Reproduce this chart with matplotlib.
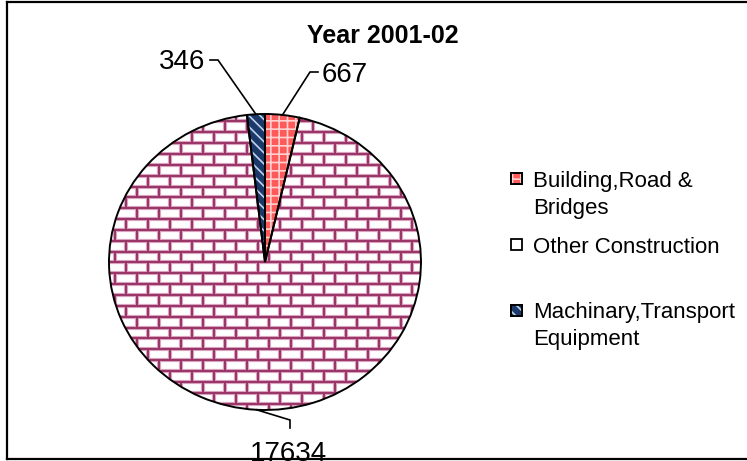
import numpy as np
import matplotlib
matplotlib.use('Agg')
import matplotlib.pyplot as plt
from matplotlib.patches import Wedge, Rectangle
from matplotlib.collections import LineCollection
from matplotlib.lines import Line2D

plt.rcParams['font.family'] = ['Liberation Sans', 'DejaVu Sans']
plt.rcParams['hatch.linewidth'] = 1.2

# ---- data ----
title = "Year 2001-02"
categories = ["Building,Road &\nBridges", "Other Construction", "Machinary,Transport\nEquipment"]
values = [667, 17634, 346]
value_labels = ["667", "17634", "346"]

# ---- styling ----
W, H = 747, 461
fig = plt.figure(figsize=(W / 100, H / 100), dpi=100)
fig.patch.set_facecolor('white')

cx, cy, rx, ry = 265, 262, 156, 148   # pie centre / radii in pixels (from top-left)
ax = fig.add_axes([(cx - 1.1 * rx) / W, 1 - (cy + 1.1 * ry) / H, 2.2 * rx / W, 2.2 * ry / H])

faces = ['#FF5A5A', 'white', '#1B3A6B']
hatches = ['++', None, '\\\\\\']
hatch_cols = ['#FFD0D0', None, '#BFD3EA']

wedges, _ = ax.pie(values, startangle=90, counterclock=False, radius=1, center=(0, 0),
                   colors=faces, wedgeprops=dict(edgecolor='none', linewidth=0), frame=False)
ax.set_aspect('auto')
ax.set_xlim(-1.1, 1.1)
ax.set_ylim(-1.1, 1.1)
ax.axis('off')

# hatch overlays
for w, h, hc in zip(wedges, hatches, hatch_cols):
    if h:
        ov = Wedge(w.center, w.r, w.theta1, w.theta2, facecolor='none', edgecolor=hc,
                   linewidth=0, hatch=h, zorder=2)
        ax.add_patch(ov)

# brick pattern for the large wedge
big = wedges[1]
dy = 10.85 / ry
bw = 22.0 / rx
y_start = (cy - 154) / ry
k0 = -int(3 / dy)
ys = [y_start + k * dy for k in range(k0, -k0)]
ys = [y for y in ys if -1.15 < y < 1.15]
hsegs, vsegs = [], []
for i, y in enumerate(ys):
    hsegs.append([(-1.1, y), (1.1, y)])
    off = (i % 2) * bw / 2
    xs = np.arange(-1.1 + off, 1.1, bw)
    for x in xs:
        vsegs.append([(x, y - dy), (x, y)])
segs = hsegs + vsegs
under = LineCollection(segs, colors='#D9A3C0', linewidths=3.0, zorder=2)
over = LineCollection(segs, colors='#993366', linewidths=1.4, zorder=2.1)
for lc in (under, over):
    lc.set_clip_path(big)
    ax.add_collection(lc)

# outlines
for w in wedges:
    ax.add_patch(Wedge(w.center, w.r, w.theta1, w.theta2, facecolor='none',
                       edgecolor='black', linewidth=1.4, zorder=4))

# value labels with leader lines
def P(x, y):
    return ((x - cx) / rx, (cy - y) / ry)

label_geo = [
    # elbow, end, text pos, ha
    (P(310, 72), P(318, 72), P(322, 81.7), 'left'),
    (P(290, 420), P(290, 428), P(289, 461), 'center'),
    (P(218, 60), P(210, 60), P(205, 69.5), 'right'),
]
for w, lab, (elb, end, tp, ha) in zip(wedges, value_labels, label_geo):
    mid = np.deg2rad((w.theta1 + w.theta2) / 2)
    sx, sy = np.cos(mid), np.sin(mid)
    ax.plot([sx, elb[0], end[0]], [sy, elb[1], end[1]], color='black', lw=1.2,
            clip_on=False, zorder=5, solid_joinstyle='miter')
    ax.text(tp[0], tp[1], lab, fontsize=20, ha=ha, va='baseline', clip_on=False, zorder=5)

# title
fig.text(383 / W, 1 - 43.3 / H, title, fontsize=18, fontweight='bold', ha='center', va='baseline')

# legend (manual)
leg_baselines = [187, 253, 318]
line_step = 26.5
mk_faces = ['#FF5A5A', 'white', '#1B3A6B']
for cat, base, fc, h, hc in zip(categories, leg_baselines, mk_faces, hatches, hatch_cols):
    for j, line in enumerate(cat.split('\n')):
        fig.text(533 / W, 1 - (base + j * line_step) / H, line, fontsize=16,
                 ha='left', va='baseline')
    x0, size = 511, 11
    yc = base - 8
    r = Rectangle((x0 / W, 1 - (yc + size / 2) / H), size / W, size / H,
                  transform=fig.transFigure, facecolor=fc, edgecolor='black', linewidth=1.3)
    fig.add_artist(r)
    if h:
        r2 = Rectangle((x0 / W, 1 - (yc + size / 2) / H), size / W, size / H,
                       transform=fig.transFigure, facecolor='none', edgecolor=hc,
                       linewidth=0, hatch=h)
        fig.add_artist(r2)
        r3 = Rectangle((x0 / W, 1 - (yc + size / 2) / H), size / W, size / H,
                       transform=fig.transFigure, facecolor='none', edgecolor='black', linewidth=1.3)
        fig.add_artist(r3)

# chart border (right edge lies outside the image)
bl, bt, bb = 7, 2.5, 458.5
for xs_, ys_ in [([bl, bl], [bt, bb]), ([bl, W + 5], [bt, bt]), ([bl, W + 5], [bb, bb])]:
    fig.add_artist(Line2D([x / W for x in xs_], [1 - y / H for y in ys_],
                          transform=fig.transFigure, color='black', lw=1.6, zorder=10))

fig.savefig('out.png', dpi=100, facecolor='white')
